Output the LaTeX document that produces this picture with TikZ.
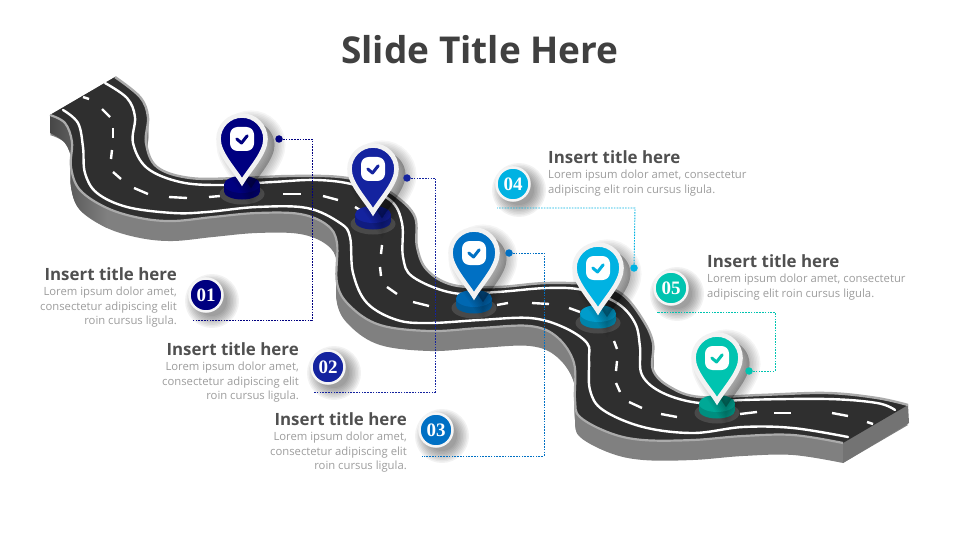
\documentclass[tikz,border=0pt]{standalone}
\usepackage{fontspec}
\setmainfont{Open Sans}
\newfontfamily\numfont{Liberation Serif}
\definecolor{pin1}{HTML}{000080}
\definecolor{pin2}{HTML}{14239F}
\definecolor{pin3}{HTML}{0070C4}
\definecolor{pin4}{HTML}{00B2E2}
\definecolor{pin5}{HTML}{00C4B0}
\definecolor{top1}{HTML}{000080}
\definecolor{top2}{HTML}{14239F}
\definecolor{top3}{HTML}{0068B2}
\definecolor{top4}{HTML}{009CCB}
\definecolor{top5}{HTML}{00A896}
\definecolor{side1}{HTML}{00006A}
\definecolor{side2}{HTML}{101C80}
\definecolor{side3}{HTML}{005A98}
\definecolor{side4}{HTML}{0084AA}
\definecolor{side5}{HTML}{008F80}
\definecolor{asphalt}{HTML}{2F2F2F}
\definecolor{kerb}{HTML}{ABABAB}
\definecolor{wall}{HTML}{808080}
\definecolor{headtext}{HTML}{505050}
\definecolor{bodytext}{HTML}{9C9C9C}
\newcommand{\roadupper}{plot[smooth,tension=.6] coordinates {(115,77) (140,97) (148,117) (146,143) (157,167) (190,178) (240,178) (290,176) (340,177) (375,185) (397,197) (415,217) (417,247) (427,270) (453,285) (497,287) (547,283) (597,285) (623,295) (643,320) (653,343) (653,370) (670,387) (700,397) (760,395) (827,393) (877,398) (908,405)}}
\newcommand{\roadlower}{-- plot[smooth,tension=.6] coordinates {(843,443) (793,435) (743,436) (693,440) (643,440) (610,433) (580,417) (575,400) (574,363) (557,337) (530,326) (480,328) (430,331) (380,325) (350,306) (337,283) (337,243) (327,225) (300,214) (257,213) (213,217) (173,221) (140,218) (107,208) (80,190) (71,167) (72,142) (65,123) (50,115)}}
\tikzset{
  whiteline/.style={white,line width=2.4,line cap=round},
  dashline/.style={white,line width=2.4},
  leader/.style={line width=.9,dash pattern=on 1.6pt off 1.2pt},
  headnode/.style={font=\fontsize{16.9}{18}\selectfont\bfseries,text=headtext,inner sep=0},
  bodynode/.style={font=\fontsize{11.3}{14.5}\selectfont,text=bodytext,inner sep=0},
  numnode/.style={circle,draw=black!4,line width=2.5,minimum size=33,inner sep=0,text=white,font=\numfont\fontsize{19}{19}\selectfont\bfseries},
  dotnode/.style={circle,minimum size=7.5,inner sep=0},
}
\begin{document}
\begin{tikzpicture}[x=1pt,y=-1pt]
  \useasboundingbox (0,0) rectangle (960,540);
  \node[font=\fontsize{37}{38}\selectfont\bfseries,text=black!75] (title) at (480,50) {Slide Title Here};

  % road: wall first, then the surface
  \foreach \dy in {0,1,...,20} {
    \fill[wall,yshift=-\dy] \roadupper \roadlower -- cycle;
  }
  \shade[left color=black!72,right color=wall,draw=none] plot[smooth,tension=.6] coordinates {(50,115) (65,123) (72,142) (71,167) (80,190) (107,208)} -- plot[smooth,tension=.6] coordinates {(107,228) (80,210) (71,187) (72,162) (65,143) (50,133)} -- cycle;
  \fill[black!55] (908,405) -- (843,443) -- (843,463) -- (909,423) -- cycle;
  \fill[asphalt] \roadupper \roadlower -- cycle;
  \draw[kerb,line width=2.4] \roadupper;
  \draw[kerb,line width=2.2] (843,443) \roadlower;

  % white lines
  \draw[whiteline] plot[smooth,tension=.6] coordinates {(105,83) (127,98) (135,117) (133,143) (147,168) (180,182) (220,185) (273,182) (317,180) (355,185) (390,200) (402,223) (403,257) (413,277) (453,293) (497,292) (547,288) (583,290) (617,303) (635,323) (640,347) (642,375) (663,393) (700,403) (743,400) (827,399) (877,403) (895,410)};
  \draw[whiteline] plot[smooth,tension=.6] coordinates {(63,110) (78,123) (83,147) (85,173) (97,193) (127,207) (173,213) (207,212) (257,207) (307,208) (340,223) (350,237) (353,273) (367,303) (397,320) (430,323) (480,320) (530,318) (563,327) (587,343) (589,360) (590,390) (603,410) (643,427) (693,433) (743,427) (793,428) (848,437)};
  \foreach \xa/\ya/\xb/\yb in {83/97/89/99,102/109/110/117,113/128/113/138,112/150/111/159,113/172/121/179,134/188/148/194,169/197/187/198,209/197/220/196,283/194/301/194,323/196/338/200,355/207/360/210,382/245/381/254,380/267/381/276,387/287/397/294,413/302/429/306,497/305/508/303,532/303/549/304,569/308/580/312,614/341/617/349,617/361/616/371,616/383/620/392,629/402/642/408,661/414/677/417,740/414/757/412,774/413/791/413,832/413/848/416,867/422/873/424} {
    \draw[dashline] (\xa,\ya) -- (\xb,\yb);
  }

  % pins
  \foreach \i/\px/\py in {1/242/139,2/373/169,3/474/253,4/598/268,5/717/358} {
    \fill[black!70,opacity=.9] (\px,\py+55) ellipse [x radius=22.5,y radius=10.5];
    \fill[side\i] (\px-18,\py+45.5) rectangle (\px+18,\py+52.5);
    \fill[side\i] (\px,\py+52.5) ellipse [x radius=18,y radius=8];
    \fill[top\i] (\px,\py+45.5) ellipse [x radius=18,y radius=8.5];
    \begin{scope}[shift={(\px,\py)}]
      \foreach \k in {1,4,...,22} {
        \fill[black,opacity=.04,draw=black,line width=\k] (-14.5,6) arc[start angle=180,end angle=360,radius=23.5] .. controls (32.5,20) and (17,36) .. (9,49) .. controls (1,36) and (-14.5,20) .. cycle;
      }
      \filldraw[fill=pin\i,draw=black!5,line width=4.6] (-23.5,0) arc[start angle=180,end angle=360,radius=23.5] .. controls (23.5,14) and (8,30) .. (0,43) .. controls (-8,30) and (-23.5,14) .. cycle;
      \node[fill=white,rounded corners=7.5,minimum size=24,inner sep=0] (icon\i) at (0,0) {};
      \draw[pin\i,line width=3,line cap=round,line join=round] (-5.2,0) -- (-.5,4) -- (5.2,-3.2);
    \end{scope}
  }

  % numbers
  \foreach \i/\nx/\ny in {1/206/295,2/328/367,3/436/430,4/513/184,5/671/288} {
    \foreach \k in {2,5,...,26} {
      \fill[black,opacity=.05] (\nx+6,\ny+6) circle (14+\k/2);
    }
    \node[numnode,fill=pin\i] (num\i) at (\nx,\ny) {0\i};
  }

  % leaders
  \node[dotnode,fill=pin1] (dot1) at (279,139) {};
  \node[dotnode,fill=pin2] (dot2) at (407,178) {};
  \node[dotnode,fill=pin3] (dot3) at (509,253) {};
  \node[dotnode,fill=pin4] (dot4) at (634,268) {};
  \node[dotnode,fill=pin5] (dot5) at (749,371) {};
  \coordinate (end1) at (192,320);
  \coordinate (end2) at (314,392);
  \coordinate (end3) at (422,456);
  \coordinate (end4) at (497,208);
  \coordinate (end5) at (657,312);
  \coordinate (turn1) at (312,139);
  \coordinate (turn2) at (435.5,178);
  \coordinate (turn3) at (544,253);
  \coordinate (turn4) at (635,208);
  \coordinate (turn5) at (775,371);
  \foreach \i in {1,2,3,5} {
    \draw[leader,pin\i] (dot\i) -- (turn\i) |- (end\i);
  }
  \draw[leader,pin4] (dot4) -- (turn4) -- (end4);

  % texts
  \foreach \i/\tx/\ty in {1/177/274,2/299/349,3/407/419} {
    \node[headnode,anchor=east] (head\i) at (\tx,\ty) {Insert title here};
    \node[bodynode,anchor=north east,align=right] (body\i) at (\tx,\ty+13) {Lorem ipsum dolor amet,\\consectetur adipiscing elit\\roin cursus ligula.};
  }
  \foreach \i/\tx/\ty in {4/548/157,5/707/261} {
    \node[headnode,anchor=west] (head\i) at (\tx,\ty) {Insert title here};
    \node[bodynode,anchor=north west,align=left] (body\i) at (\tx,\ty+13) {Lorem ipsum dolor amet, consectetur\\adipiscing elit roin cursus ligula.};
  }
\end{tikzpicture}
\end{document}
